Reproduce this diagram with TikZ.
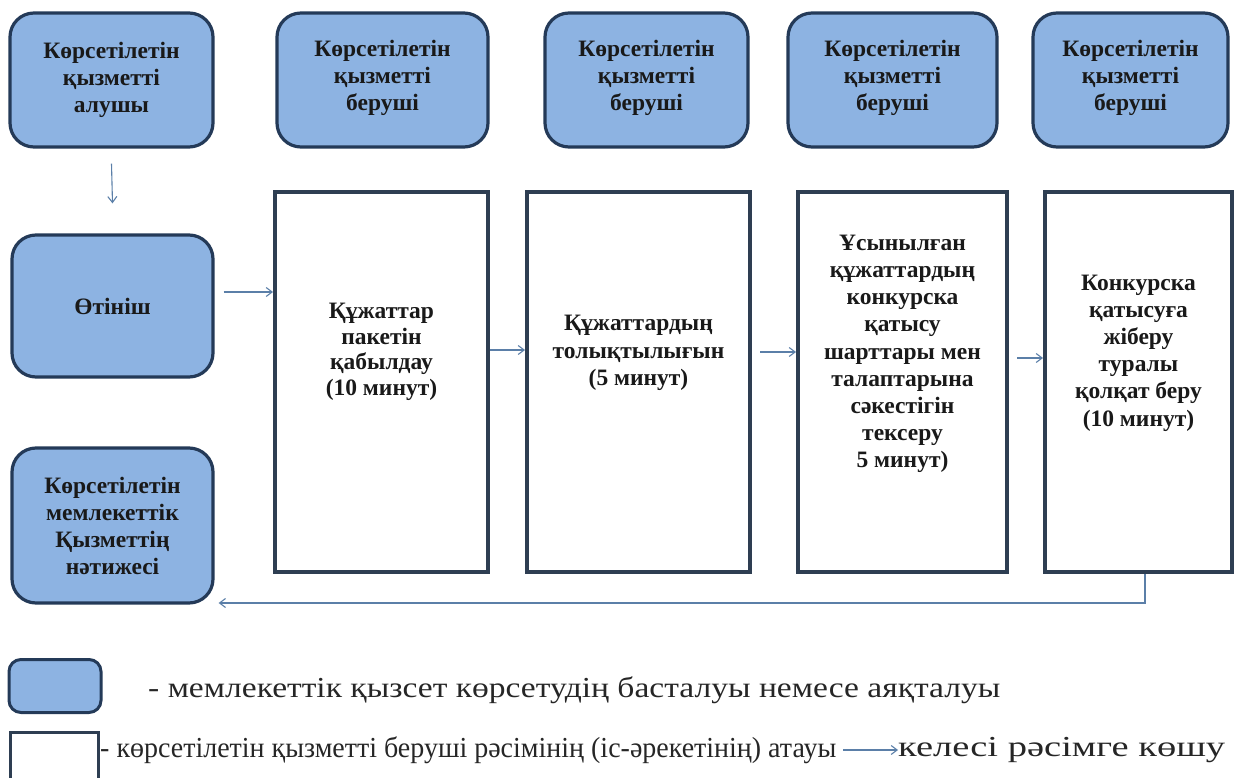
\documentclass[tikz,border=0pt]{standalone}
\usepackage{fontspec}
\setmainfont{Liberation Serif}
\usetikzlibrary{arrows.meta}
\definecolor{bfill}{HTML}{8DB3E2}
\definecolor{bdraw}{HTML}{243A58}
\definecolor{wdraw}{HTML}{2E3E52}
\definecolor{arrc}{HTML}{5B7FA8}
\begin{document}
\begin{tikzpicture}[x=1pt,y=-1pt,
  bluebox/.style={draw=bdraw,fill=bfill,line width=3.2pt,rounded corners=24pt,inner sep=0pt},
  whitebox/.style={draw=wdraw,fill=white,line width=4pt,inner sep=0pt},
  btext/.style={font=\bfseries\fontsize{23.5}{27}\selectfont,align=center,text=black!90},
  wtext/.style={font=\bfseries\fontsize{23.5}{27.2}\selectfont,align=center,text=black!90},
  ltext/.style={font=\fontsize{29}{33}\selectfont,anchor=west,inner sep=0pt,text=black!85},
  arr/.style={draw=arrc,line width=1.1pt,-{Straight Barb[length=6pt,width=9pt]}}]
\useasboundingbox (0,0) rectangle (1235,778);
\clip (0,0) rectangle (1235,778);
% top row
\node[bluebox,minimum width=203pt,minimum height=134pt] (B1) at (111.5,80) {};
\node[btext] (B1t) at (111.5,80) {Көрсетілетін\\қызметті\\алушы};
\node[bluebox,minimum width=211pt,minimum height=134pt] (B2) at (382.5,80) {};
\node[btext] (B2t) at (382.5,78) {Көрсетілетін\\қызметті\\беруші};
\node[bluebox,minimum width=203pt,minimum height=134pt] (B3) at (646.5,80) {};
\node[btext] (B3t) at (646.5,78) {Көрсетілетін\\қызметті\\беруші};
\node[bluebox,minimum width=209pt,minimum height=134pt] (B4) at (892.5,80) {};
\node[btext] (B4t) at (892.5,78) {Көрсетілетін\\қызметті\\беруші};
\node[bluebox,minimum width=195pt,minimum height=134pt] (B5) at (1130.5,80) {};
\node[btext] (B5t) at (1130.5,78) {Көрсетілетін\\қызметті\\беруші};
% left column
\node[bluebox,minimum width=201pt,minimum height=142pt] (O) at (112.5,306) {};
\node[btext] (Ot) at (112.5,306) {Өтініш};
\node[bluebox,minimum width=201pt,minimum height=155pt] (R) at (112.5,525.5) {};
\node[btext] (Rt) at (112.5,526) {Көрсетілетін\\мемлекеттік\\Қызметтің\\нәтижесі};
% white boxes
\node[whitebox,minimum width=213pt,minimum height=380pt] (W1) at (381.5,382) {};
\node[wtext,font=\bfseries\fontsize{23.5}{25.5}\selectfont] (W1t) at (381.5,352) {Құжаттар\\пакетін\\қабылдау\\(10 минут)};
\node[whitebox,minimum width=223pt,minimum height=380pt] (W2) at (638.5,382) {};
\node[wtext] (W2t) at (638.5,353) {Құжаттардың\\толықтылығын\\(5 минут)};
\node[whitebox,minimum width=209pt,minimum height=380pt] (W3) at (902.5,382) {};
\node[wtext] (W3t) at (902.5,354) {Ұсынылған\\құжаттардың\\конкурска\\қатысу\\шарттары мен\\талаптарына\\сәкестігін\\тексеру\\5 минут)};
\node[whitebox,minimum width=187pt,minimum height=380pt] (W4) at (1138.5,382) {};
\node[wtext] (W4t) at (1138.5,353) {Конкурска\\қатысуға\\жіберу\\туралы\\қолқат беру\\(10 минут)};
% connectors
\draw[arr] ([yshift=-15pt]B1.south) -- ([yshift=30pt]O.north);
\coordinate (c1) at ([xshift=9pt,yshift=14pt]O.east);
\draw[arr] (c1) -- (c1 -| W1.west);
\coordinate (c2) at ([yshift=32pt]W1.east);
\draw[arr] (c2) -- (c2 -| W2.west);
\coordinate (c3) at ([xshift=8pt,yshift=30pt]W2.east);
\draw[arr] (c3) -- (c3 -| W3.west);
\coordinate (c4) at ([xshift=8pt,yshift=24pt]W3.east);
\draw[arr] (c4) -- (c4 -| W4.west);
\coordinate (c5) at ([xshift=6.5pt]W4.south);
\coordinate (c6) at ([yshift=-29pt]c5);
\coordinate (c7) at ([xshift=4pt]R.east);
\draw[arr] (c5) -- (c6) -- (c6 -| c7);
% legend
\node[bluebox,rounded corners=12pt,line width=3pt,minimum width=92pt,minimum height=53pt] (LB) at (55,686) {};
\node[whitebox,line width=3pt,minimum width=88pt,minimum height=60pt] (LW) at (54,762) {};
\node[ltext] (L1) at (148,690) {\resizebox{852pt}{\height}{- мемлекеттік қызсет көрсетудің басталуы немесе аяқталуы}};
\node[ltext] (L2) at (100,750) {\resizebox{736pt}{\height}{- көрсетілетін қызметті беруші рәсімінің (іс-әрекетінің) атауы}};
\coordinate (la) at (843,750);
\node[ltext] (L3) at (898,750) {\resizebox{327pt}{\height}{келесі рәсімге көшу}};
\draw[arr] (la) -- (L3.west);
\end{tikzpicture}
\end{document}
